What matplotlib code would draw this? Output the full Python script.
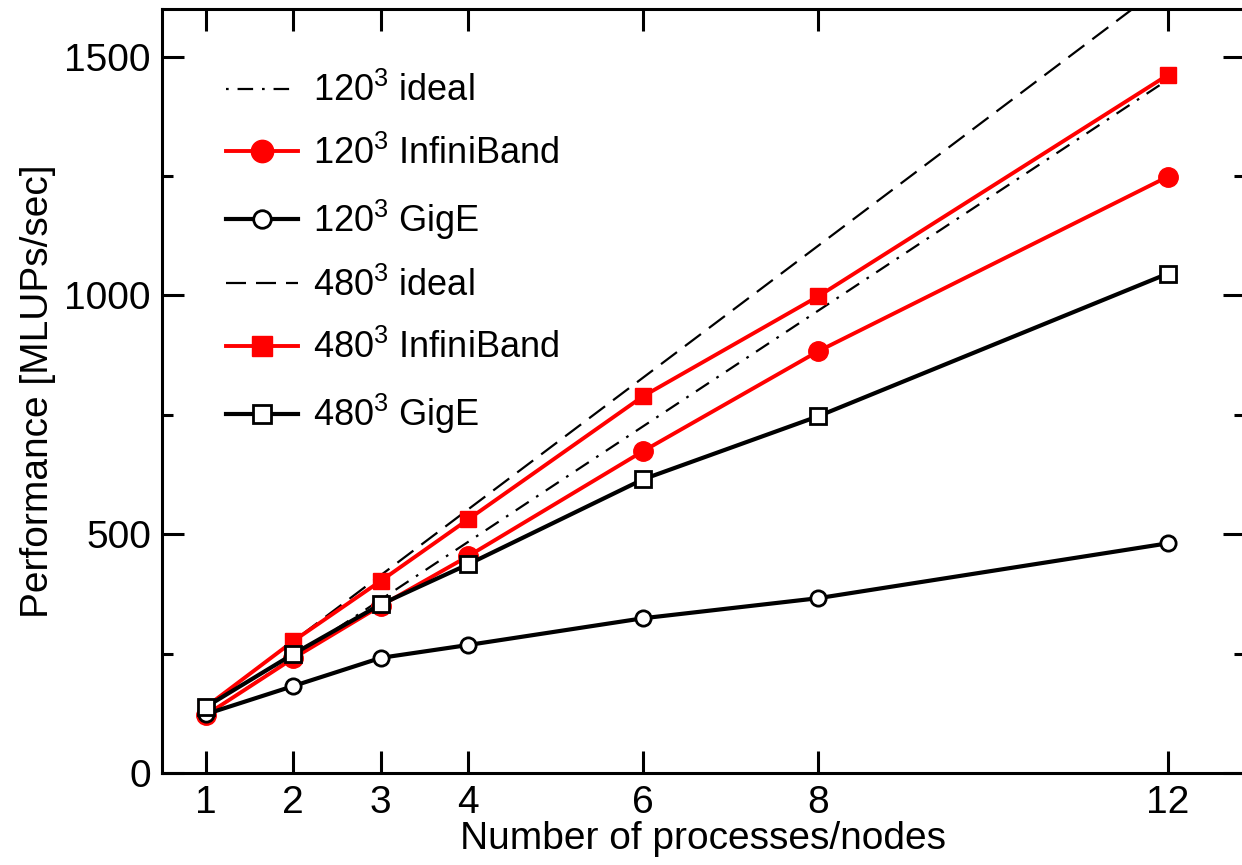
import matplotlib.pyplot as plt
from matplotlib.ticker import MultipleLocator
import numpy as np

# data
nodes = [1, 2, 3, 4, 6, 8, 12]
ideal_120_base = 121
ideal_480_base = 138
ib_120 = [121, 240, 350, 454, 674, 883, 1249]
gige_120 = [123, 182, 241, 268, 324, 366, 481]
ib_480 = [138, 276, 402, 531, 789, 998, 1462]
gige_480 = [138, 249, 353, 437, 615, 747, 1046]
xlim = (0.5, 12.88)
ideal_x = [1, 12]

plt.rcParams['font.family'] = ['Liberation Sans', 'DejaVu Sans']
plt.rcParams['mathtext.fontset'] = 'custom'
plt.rcParams['mathtext.rm'] = 'Liberation Sans'

fig = plt.figure(figsize=(12.42, 8.65), dpi=100)
# right edge of the axes sits just past the figure border (cropped like the original)
ax = fig.add_axes([0.1304, 0.1064, 0.872, 0.8832])

ix = np.array(ideal_x)
ax.plot(ix, ideal_120_base * ix, color='black', lw=1.6, dashes=(1.2, 4, 7, 4),
        label='120$^3$ ideal', zorder=2)
ax.plot(nodes, ib_120, color='red', lw=2.8, marker='o', ms=14,
        mfc='red', mec='red', label='120$^3$ InfiniBand', zorder=3)
ax.plot(nodes, gige_120, color='black', lw=3, marker='o', ms=11,
        mfc='white', mec='black', mew=2, label='120$^3$ GigE', zorder=3)
ax.plot(ix, ideal_480_base * ix, color='black', lw=1.6, dashes=(9, 4.5),
        label='480$^3$ ideal', zorder=2)
ax.plot(nodes, ib_480, color='red', lw=2.8, marker='s', ms=12,
        mfc='red', mec='red', label='480$^3$ InfiniBand', zorder=3)
ax.plot(nodes, gige_480, color='black', lw=3, marker='s', ms=11,
        mfc='white', mec='black', mew=2, label='480$^3$ GigE', zorder=4)

ax.set_xlim(*xlim)
ax.set_ylim(0, 1600)
ax.set_xticks(nodes)
ax.yaxis.set_major_locator(MultipleLocator(500))
ax.yaxis.set_minor_locator(MultipleLocator(250))
ax.tick_params(which='both', direction='in', top=True, right=True,
               labelsize=28, width=2.2)
ax.tick_params(axis='x', pad=9)
ax.tick_params(axis='y', pad=8)
ax.tick_params(which='major', length=16)
ax.tick_params(which='minor', length=8)
for s in ax.spines.values():
    s.set_linewidth(2.2)

ax.set_xlabel('Number of processes/nodes', fontsize=28, labelpad=0)
ax.set_ylabel('Performance [MLUPs/sec]', fontsize=28, labelpad=6)

ax.legend(loc='upper left', bbox_to_anchor=(0.059, 0.916), frameon=False,
          fontsize=26, handlelength=2.0, labelspacing=0.72, handletextpad=0.4,
          borderpad=0, borderaxespad=0, markerscale=1.15)

fig.savefig('out.png', dpi=100)
